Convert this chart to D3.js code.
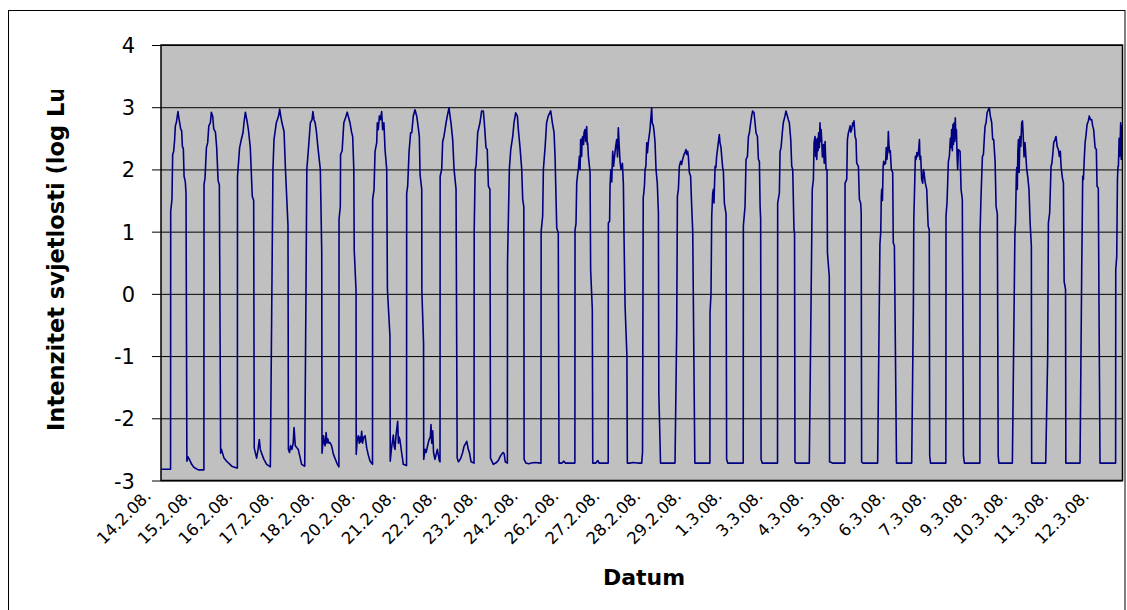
<!DOCTYPE html>
<html><head><meta charset="utf-8">
<script src="https://cdn.jsdelivr.net/npm/d3@7"></script>
<style>html,body{margin:0;padding:0;background:#fff}svg{display:block}</style>
</head><body>
<svg id="chart" width="1127" height="610"></svg>
<script>
// Light intensity (log lux) readings, [hour of day, value] per day
const d14_2 = [[0,-2.82],[6.8,-2.82],[6.9,1.33],[7.8,1.52],[8.3,2.24],[9.0,2.29],[9.7,2.48],[10.2,2.70],[10.9,2.75],[11.6,2.86],[12.1,2.93],[12.6,2.84],[13.3,2.75],[14.0,2.65],[14.7,2.62],[15.2,2.37],[15.9,2.33],[16.4,1.89],[17.3,1.80],[17.8,1.60],[18.4,-2.69],[19.2,-2.62],[20.2,-2.66],[21.8,-2.74],[23.5,-2.79]];
const d15_2 = [[0.2,-2.80],[2.5,-2.83],[6.5,-2.83],[6.6,1.76],[7.3,1.86],[8.3,2.35],[9.2,2.43],[10.0,2.70],[11.1,2.75],[11.8,2.92],[12.8,2.85],[13.5,2.65],[14.7,2.60],[15.6,2.35],[16.6,1.82],[17.5,1.75],[18.4,-2.56],[19.0,-2.50],[20.8,-2.64],[22.7,-2.69]];
const d16_2 = [[2.3,-2.77],[5.8,-2.80],[6.3,-2.80],[6.4,1.89],[7.9,2.35],[9.1,2.48],[10.3,2.59],[11.0,2.75],[12.0,2.92],[13.4,2.75],[14.3,2.61],[15.5,2.35],[16.9,1.57],[17.9,1.50],[18.3,-2.48],[20.0,-2.64],[21.0,-2.50],[21.9,-2.34],[22.6,-2.50],[23.5,-2.56]];
const d17_2 = [[1.2,-2.66],[3.1,-2.74],[5.75,-2.78],[7.6,2.00],[8.35,2.48],[10.0,2.75],[11.5,2.85],[12.4,2.97],[13.2,2.85],[14.0,2.75],[15.5,2.61],[16.5,2.00],[18.3,1.10],[18.6,-2.50],[19.4,-2.55],[20.2,-2.44],[21.1,-2.50],[22.0,-2.40],[22.6,-2.15],[23.5,-2.44]];
const d18_2 = [[0.5,-2.47],[1.6,-2.50],[4.0,-2.74],[6.2,-2.77],[7.7,2.00],[8.9,2.35],[10.2,2.75],[11.4,2.80],[12.0,2.93],[12.8,2.80],[13.6,2.75],[14.5,2.61],[15.6,2.35],[17.3,2.00],[18.3,0.66],[18.5,-2.56],[19.5,-2.28],[20.1,-2.40],[20.7,-2.44],[21.4,-2.23],[22.0,-2.40],[22.6,-2.33],[23.4,-2.40]];
const d19_2 = [[0.2,-2.39],[1.4,-2.45],[2.6,-2.58],[5.4,-2.74],[6.5,-2.78],[6.6,1.20],[7.5,1.40],[7.7,2.24],[8.8,2.30],[10.0,2.75],[11.5,2.85],[12.4,2.92],[13.2,2.85],[14.4,2.75],[15.5,2.60],[16.3,2.53],[17.1,2.00],[17.4,0.70],[18.7,0.05],[18.8,-2.58],[19.5,-2.35],[20.3,-2.28],[21.0,-2.40],[21.5,-2.30],[22.0,-2.38],[22.7,-2.21],[23.3,-2.40]];
const d20_2 = [[0.2,-2.30],[1.1,-2.28],[2.3,-2.48],[3.5,-2.60],[4.7,-2.69],[6.4,-2.74],[6.5,1.52],[7.5,1.68],[8.2,2.29],[9.4,2.43],[9.8,2.75],[10.5,2.64],[11.3,2.86],[12.0,2.80],[12.9,2.93],[13.6,2.64],[14.5,2.75],[15.3,2.32],[16.5,2.00],[17.0,0.07],[18.8,-0.68],[19.0,-2.69],[19.8,-2.50],[20.4,-2.40],[21.2,-2.27],[21.8,-2.45],[22.4,-2.50],[23.0,-2.30],[23.6,-2.18]];
const d21_2 = [[0.3,-2.05],[0.8,-2.40],[1.3,-2.30],[1.9,-2.35],[3.1,-2.55],[4.3,-2.74],[6.6,-2.76],[6.7,1.62],[7.4,1.73],[8.4,2.29],[9.5,2.59],[10.3,2.59],[11.4,2.86],[12.6,2.96],[13.8,2.86],[14.5,2.75],[15.7,2.53],[16.2,1.92],[17.4,1.68],[17.5,0.05],[18.7,-0.80],[18.8,-2.66],[19.7,-2.50],[20.5,-2.55],[21.5,-2.45],[22.5,-2.35],[23.5,-2.30]];
const d22_2 = [[0.0,-2.10],[0.5,-2.40],[1.2,-2.20],[1.8,-2.55],[2.8,-2.66],[4.5,-2.50],[5.9,-2.68],[6.4,-2.70],[6.5,1.89],[7.6,2.00],[8.3,2.45],[9.2,2.53],[10.7,2.75],[11.6,2.86],[12.8,2.99],[13.5,2.86],[14.2,2.75],[15.4,2.48],[16.4,2.00],[17.8,1.68],[18.6,-2.64],[19.5,-2.70],[21.0,-2.65],[22.5,-2.55],[23.5,-2.45]];
const d23_2 = [[1.4,-2.37],[2.5,-2.50],[3.3,-2.55],[4.5,-2.70],[6.6,-2.72],[6.7,1.00],[7.4,2.00],[8.0,2.05],[9.2,2.59],[10.8,2.75],[12.0,2.94],[13.2,2.94],[13.9,2.75],[15.1,2.35],[16.0,2.32],[16.8,1.73],[17.9,1.68],[18.3,-2.64],[20.3,-2.74],[22.0,-2.72],[23.8,-2.68]];
const d24_2 = [[1.5,-2.60],[3.2,-2.55],[4.0,-2.57],[4.8,-2.70],[6.3,-2.72],[6.4,0.50],[7.7,2.00],[8.7,2.32],[10.1,2.53],[11.0,2.75],[12.2,2.91],[13.4,2.86],[14.1,2.64],[15.3,2.35],[16.5,2.00],[17.2,1.52],[18.0,1.40],[18.2,-2.66],[19.5,-2.72],[21.5,-2.73],[23.5,-2.72]];
const d25_2 = [[2.0,-2.71],[6.2,-2.72],[6.3,1.00],[7.4,1.25],[7.9,2.00],[9.1,2.35],[10.2,2.75],[11.4,2.86],[13.1,2.94],[14.3,2.75],[15.5,2.59],[16.2,2.21],[17.4,1.06],[18.5,0.98],[19.0,-2.72],[21.0,-2.72],[22.5,-2.69],[23.5,-2.72]];
const d26_2 = [[3.0,-2.72],[6.3,-2.72],[6.4,1.03],[7.1,1.13],[7.6,1.78],[8.4,1.95],[8.8,2.00],[9.5,2.21],[10.0,2.00],[10.4,2.48],[11.1,2.21],[11.5,2.50],[11.9,2.53],[12.5,2.40],[12.8,2.59],[13.5,2.64],[14.0,2.45],[14.7,2.69],[15.1,2.40],[15.4,2.43],[15.9,2.21],[17.1,1.95],[17.5,0.39],[18.7,-0.25],[19.0,-2.72],[21.0,-2.72],[22.7,-2.68],[23.5,-2.72]];
const d27_2 = [[3.0,-2.72],[6.0,-2.72],[6.1,1.14],[7.0,1.17],[7.3,1.73],[7.9,2.00],[8.5,1.80],[9.2,2.29],[9.8,2.05],[10.5,2.21],[11.2,2.35],[12.0,2.48],[12.6,2.20],[13.2,2.67],[13.7,2.43],[14.4,2.13],[15.1,2.00],[16.1,2.10],[16.8,1.76],[17.2,1.00],[18.0,-0.20],[19.3,-1.00],[19.6,-2.72],[22.0,-2.72],[23.5,-2.71]];
const d28_2 = [[3.0,-2.72],[5.8,-2.72],[6.4,-2.55],[6.6,-1.00],[6.9,1.55],[7.3,1.62],[7.8,1.75],[8.2,2.00],[8.8,2.05],[9.4,2.43],[9.9,2.27],[10.5,2.43],[11.2,2.55],[11.7,2.64],[12.9,2.99],[13.3,2.75],[14.1,2.70],[14.7,2.59],[15.3,2.43],[16.0,2.00],[16.9,1.78],[17.7,1.30],[18.0,-1.60],[19.2,-2.72],[21.5,-2.72],[23.5,-2.72]];
const d29_2 = [[3.0,-2.72],[5.5,-2.72],[6.7,-0.60],[7.2,1.57],[7.9,1.68],[8.6,2.05],[9.5,2.13],[10.2,2.08],[10.9,2.16],[11.9,2.24],[12.6,2.27],[13.3,2.32],[13.8,2.24],[14.5,2.29],[15.0,2.21],[15.7,1.95],[16.6,1.89],[17.3,1.44],[18.1,1.00],[18.9,-1.00],[19.6,-2.72],[21.5,-2.72],[23.5,-2.72]];
const d01_3 = [[3.0,-2.72],[6.3,-2.72],[6.4,-0.30],[7.1,0.00],[7.6,1.25],[8.3,1.62],[8.8,1.68],[9.2,1.46],[10.0,2.05],[10.6,2.03],[11.1,2.21],[12.3,2.43],[13.0,2.56],[13.5,2.43],[14.2,2.35],[14.7,2.21],[15.4,2.03],[15.9,1.97],[16.6,1.46],[17.8,1.28],[18.2,-2.66],[19.0,-2.72],[21.5,-2.72],[23.5,-2.72]];
const d02_3 = [[3.0,-2.72],[6.0,-2.72],[6.1,1.09],[7.3,1.41],[8.0,2.16],[9.0,2.21],[9.7,2.53],[10.4,2.59],[11.3,2.75],[12.0,2.86],[12.7,2.94],[13.7,2.91],[14.4,2.75],[15.1,2.59],[16.1,2.53],[16.8,2.16],[17.5,2.13],[18.0,1.41],[18.4,1.20],[18.7,-2.66],[19.5,-2.72],[21.5,-2.72],[23.5,-2.72]];
const d03_3 = [[3.0,-2.72],[6.4,-2.72],[6.5,1.46],[7.7,1.62],[8.2,2.29],[8.9,2.35],[9.8,2.59],[10.5,2.75],[11.7,2.86],[12.4,2.94],[13.4,2.86],[14.1,2.80],[14.8,2.75],[15.8,2.48],[16.5,2.05],[17.2,2.00],[18.1,1.03],[18.5,0.98],[18.8,-2.70],[19.5,-2.72],[21.5,-2.72],[23.5,-2.72]];
const d04_3 = [[3.0,-2.72],[5.0,-2.72],[7.1,1.68],[7.9,1.84],[8.4,2.43],[9.1,2.53],[9.5,2.21],[9.9,2.48],[10.3,2.16],[10.8,2.50],[11.2,2.30],[11.6,2.59],[12.1,2.35],[12.6,2.75],[13.0,2.45],[13.4,2.64],[13.8,2.48],[14.3,2.20],[15.0,2.40],[15.6,2.10],[16.2,2.45],[16.9,2.00],[17.6,2.00],[17.9,0.66],[19.2,0.28],[19.4,-2.70],[21.5,-2.72],[23.5,-2.72]];
const d05_3 = [[3.0,-2.72],[6.3,-2.72],[6.4,1.78],[7.6,1.84],[8.1,2.48],[8.8,2.59],[9.4,2.64],[10.0,2.70],[10.5,2.60],[11.1,2.64],[11.9,2.75],[12.5,2.70],[12.8,2.78],[13.5,2.53],[14.2,2.48],[14.7,2.10],[15.9,2.05],[16.6,1.52],[17.5,1.46],[17.9,1.30],[18.2,-2.70],[19.0,-2.72],[21.5,-2.72],[23.5,-2.72]];
const d06_3 = [[3.0,-2.72],[5.6,-2.72],[7.2,0.80],[7.8,1.00],[8.2,1.57],[8.5,1.68],[9.0,1.50],[9.5,2.05],[9.9,2.13],[10.5,2.08],[11.2,2.10],[11.7,2.35],[12.2,2.16],[12.8,2.30],[13.2,2.61],[13.6,2.40],[14.1,2.27],[14.6,2.30],[15.3,2.00],[16.3,1.95],[16.7,0.82],[17.5,0.77],[19.0,-2.72],[21.5,-2.72],[23.5,-2.72]];
const d07_3 = [[3.0,-2.72],[5.8,-2.72],[7.0,-0.20],[7.3,1.20],[7.9,1.73],[8.4,2.21],[8.9,2.16],[9.5,2.27],[10.0,2.21],[10.5,2.24],[11.3,2.48],[11.7,2.16],[12.2,2.21],[12.9,1.84],[13.6,1.78],[14.1,2.00],[14.6,1.95],[15.3,1.80],[16.5,1.68],[17.5,1.09],[18.3,1.03],[18.6,-2.60],[19.2,-2.72],[21.5,-2.72],[23.5,-2.72]];
const d08_3 = [[3.0,-2.72],[6.1,-2.72],[6.2,1.25],[6.9,1.46],[7.9,2.13],[8.6,2.21],[9.3,2.50],[9.8,2.35],[10.2,2.64],[10.7,2.30],[11.1,2.72],[11.5,2.40],[11.9,2.75],[12.4,2.45],[12.8,2.83],[13.2,2.50],[13.6,2.64],[14.1,2.20],[14.5,2.00],[15.0,2.32],[16.2,2.29],[16.9,1.68],[17.8,1.52],[18.6,-2.60],[19.3,-2.72],[21.5,-2.72],[23.5,-2.72]];
const d09_3 = [[3.0,-2.72],[6.3,-2.72],[6.4,0.98],[7.1,1.57],[8.1,2.21],[8.8,2.24],[9.5,2.53],[10.0,2.70],[10.7,2.75],[11.4,2.91],[12.3,2.96],[13.0,2.99],[13.7,2.86],[14.7,2.75],[15.4,2.48],[16.1,2.48],[17.1,2.13],[17.8,1.41],[18.7,1.28],[19.3,-2.60],[19.8,-2.72],[21.5,-2.72],[23.5,-2.72]];
const d10_3 = [[3.0,-2.72],[5.4,-2.72],[7.2,0.98],[7.6,1.14],[8.2,1.90],[8.5,2.03],[8.9,1.68],[9.3,2.30],[9.7,2.48],[10.2,1.95],[10.8,2.53],[11.4,2.37],[12.0,2.75],[12.6,2.78],[13.2,2.48],[13.7,2.20],[14.4,2.43],[15.0,2.21],[15.6,2.00],[16.3,1.89],[17.2,1.68],[18.0,1.14],[18.9,0.77],[19.1,-2.72],[21.5,-2.72],[23.5,-2.72]];
const d11_3 = [[3.0,-2.72],[5.1,-2.72],[6.5,-1.00],[7.0,1.14],[7.9,1.30],[8.9,2.05],[9.5,2.10],[10.1,2.24],[10.8,2.43],[11.7,2.48],[12.4,2.53],[13.2,2.37],[14.1,2.32],[14.8,2.21],[15.5,2.29],[16.0,2.05],[17.0,1.86],[17.7,1.78],[18.2,0.20],[19.2,0.07],[19.4,-2.72],[21.5,-2.72],[23.5,-2.72]];
const d12_3 = [[3.0,-2.72],[5.5,-2.72],[6.7,0.40],[7.0,0.98],[7.4,1.89],[7.9,1.84],[8.6,2.21],[9.1,2.43],[9.8,2.56],[10.5,2.72],[11.4,2.78],[12.1,2.86],[12.9,2.80],[13.8,2.80],[14.5,2.70],[15.2,2.64],[16.2,2.35],[17.1,2.32],[17.6,1.73],[18.5,1.70],[19.0,-0.20],[19.7,-2.72],[21.5,-2.72],[23.5,-2.72]];
const d13_3 = [[3.0,-2.72],[6.8,-2.72],[6.9,0.39],[7.6,0.60],[8.1,1.84],[8.5,2.05],[8.8,2.05],[9.3,2.50],[9.6,2.21],[10.0,2.40],[10.4,2.75],[10.8,2.16],[11.2,2.70],[11.6,2.65]];

const dayReadings = [d14_2,d15_2,d16_2,d17_2,d18_2,d19_2,d20_2,d21_2,d22_2,d23_2,d24_2,d25_2,d26_2,d27_2,d28_2,d29_2,
  d01_3,d02_3,d03_3,d04_3,d05_3,d06_3,d07_3,d08_3,d09_3,d10_3,d11_3,d12_3,d13_3];

const tickLabels = ["14.2.08.","15.2.08.","16.2.08.","17.2.08.","18.2.08.","20.2.08.","21.2.08.","22.2.08.",
  "23.2.08.","24.2.08.","26.2.08.","27.2.08.","28.2.08.","29.2.08.","1.3.08.","3.3.08.","4.3.08.","5.3.08.",
  "6.3.08.","7.3.08.","9.3.08.","10.3.08.","11.3.08.","12.3.08."];
const labelStepHours = 29;      // one category label every 29 h of readings
const totalHours = 683.7;       // span of the category axis
const yTicks = [-3,-2,-1,0,1,2,3,4];

const series = dayReadings.flatMap((pts, d) => pts.map(([h, v]) => ({t: d * 24 + h, v})));

const svg = d3.select("#chart");
const P = {left: 161, right: 1122.5, top: 45, bottom: 480.5};
const x = d3.scaleLinear().domain([0, totalHours]).range([P.left, P.right]);
const y = d3.scaleLinear().domain([-3, 4]).range([P.bottom, P.top]);

svg.append("rect").attr("width", 1127).attr("height", 610).attr("fill", "#fff");
svg.append("rect").attr("x", 8.5).attr("y", 10.5).attr("width", 1116.5).attr("height", 640)
  .attr("fill", "none").attr("stroke", "#000").attr("stroke-width", 1);

svg.append("rect").attr("x", P.left).attr("y", P.top).attr("width", P.right - P.left).attr("height", P.bottom - P.top)
  .attr("fill", "#c0c0c0");

// gridlines
const grid = svg.append("g").attr("transform", `translate(${P.left},0)`)
  .call(d3.axisLeft(y).tickValues(yTicks).tickSize(-(P.right - P.left)).tickFormat(""));
grid.select(".domain").remove();
grid.selectAll("line").attr("stroke", "#000").attr("stroke-width", 1);

// y axis with ticks and labels (plain hyphen-minus as in the original)
const ya = svg.append("g").attr("transform", `translate(${P.left},0)`)
  .call(d3.axisLeft(y).tickValues(yTicks).tickSize(9).tickPadding(17).tickFormat(d => String(d)));
ya.select(".domain").remove();
ya.selectAll("line").attr("stroke", "#000");
ya.selectAll("text").attr("font-family", "DejaVu Sans").attr("font-size", 21).attr("fill", "#000")
  .attr("dy", "0.36em");

// data line
svg.append("clipPath").attr("id", "plotclip").append("rect")
  .attr("x", P.left).attr("y", P.top).attr("width", P.right - P.left).attr("height", P.bottom - P.top);
svg.append("path").datum(series)
  .attr("clip-path", "url(#plotclip)")
  .attr("fill", "none").attr("stroke", "#000080").attr("stroke-width", 1.6).attr("stroke-linejoin", "round")
  .attr("d", d3.line().x(d => x(d.t)).y(d => y(d.v)));

// plot border
svg.append("rect").attr("x", P.left).attr("y", P.top).attr("width", P.right - P.left).attr("height", P.bottom - P.top)
  .attr("fill", "none").attr("stroke", "#000").attr("stroke-width", 1.5);

// x labels
svg.append("g").selectAll("text").data(tickLabels).join("text")
  .attr("transform", (d, i) => `translate(${x(i * labelStepHours) - 9},497) rotate(-45)`)
  .attr("text-anchor", "end")
  .attr("font-family", "DejaVu Sans").attr("font-size", 16.5).attr("fill", "#000")
  .text(d => d);

// titles
svg.append("text").attr("x", 644).attr("y", 585).attr("text-anchor", "middle")
  .attr("font-family", "DejaVu Sans").attr("font-weight", "bold").attr("font-size", 22).text("Datum");

svg.append("clipPath").attr("id", "ytclip").append("rect").attr("x", 0).attr("y", 90).attr("width", 150).attr("height", 520);
svg.append("g").attr("clip-path", "url(#ytclip)").append("text")
  .attr("transform", "translate(64,431) rotate(-90)")
  .attr("text-anchor", "start")
  .attr("font-family", "DejaVu Sans").attr("font-weight", "bold").attr("font-size", 22.5)
  .text("Intenzitet svjetlosti (log Lux)");
</script>
</body></html>
